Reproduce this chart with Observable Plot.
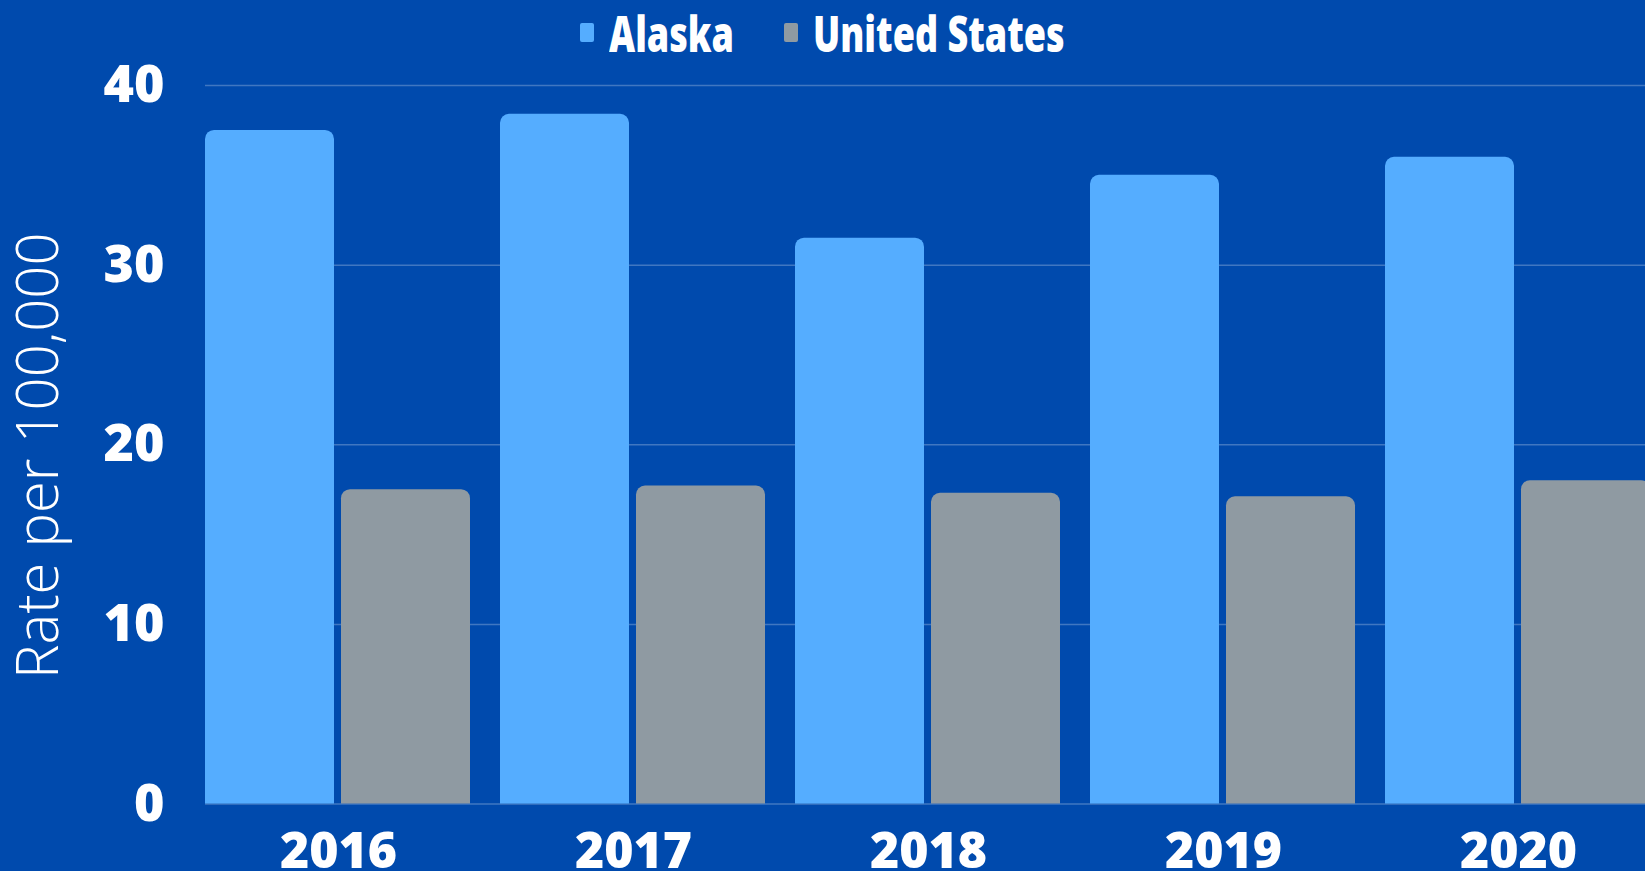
<!DOCTYPE html>
<html><head><meta charset="utf-8">
<script src="https://cdn.jsdelivr.net/npm/d3@7"></script>
<script src="https://cdn.jsdelivr.net/npm/@observablehq/plot@0.6"></script>
<style>
html,body{margin:0;padding:0;background:#004aad;overflow:hidden;width:1645px;height:871px;}
#legend{height:60px;display:flex;justify-content:center;align-items:flex-start;font-family:"Open Sans",sans-serif;font-weight:800;color:#fff;font-size:50px;line-height:64px;}
#legend .item{display:flex;align-items:flex-start;margin:0 25px;}
#legend .sw{display:inline-block;width:14px;height:19px;border-radius:2px;margin-top:23px;margin-right:15px;}
#legend .lab{display:inline-block;height:64px;margin-top:1px;}
#legend .inner{display:inline-block;white-space:nowrap;transform:scaleX(0.72);transform-origin:0 0;}
#chart svg{display:block;}
</style>
</head><body>
<div id="legend"></div>
<div id="chart"></div>
<script>
const years = ["2016", "2017", "2018", "2019", "2020"];
const seriesNames = ["Alaska", "United States"];
const alaska = [37.5, 38.4, 31.5, 35.0, 36.0];
const unitedStates = [17.5, 17.7, 17.3, 17.1, 18.0];
const colors = ["#55adff", "#8f9aa2"];
const yTicks = [0, 10, 20, 30, 40];

const data = years.flatMap((y, i) => [
  {year: y, series: seriesNames[0], value: alaska[i]},
  {year: y, series: seriesNames[1], value: unitedStates[i]}
]);

// legend
const legend = d3.select("#legend");
seriesNames.forEach((s, i) => {
  const item = legend.append("div").attr("class", "item");
  item.append("span").attr("class", "sw").style("background", colors[i]);
  item.append("span").attr("class", "lab").append("span").attr("class", "inner").text(s);
});
document.querySelectorAll("#legend .lab").forEach(l => {
  l.style.width = l.firstChild.getBoundingClientRect().width + "px";
});

const W = 1651, ML = 204, MR = 0;
const chart = Plot.plot({
  width: W,
  height: 811,
  marginLeft: ML,
  marginRight: MR,
  marginTop: 25,
  marginBottom: 67.5,
  style: {background: "transparent", color: "#fff", maxWidth: "none", overflow: "visible", fontFamily: "'Open Sans', sans-serif"},
  fx: {domain: years, paddingInner: 0.1, paddingOuter: 0, label: null},
  x: {domain: seriesNames, paddingInner: 0.05, paddingOuter: 0, axis: null},
  y: {domain: [0, 40], axis: null},
  color: {domain: seriesNames, range: colors},
  marks: [
    // full-width gridlines (drawn once, in the leftmost facet)
    Plot.axisY({ticks: yTicks, tickSize: -(W - ML - MR), tickFormat: () => "", label: null, stroke: "#ffffff", strokeOpacity: 0.25, strokeWidth: 1.5}),
    Plot.barY(data, {fx: "year", x: "series", y: "value", fill: "series", ry1: 9}),
    Plot.axisY({ticks: yTicks, tickSize: 0, tickPadding: 41, fontSize: 52, fontWeight: 800, label: null}),
    Plot.axisY({ticks: [], tickSize: 0, label: "Rate per 100,000", labelAnchor: "center", labelOffset: 189, labelArrow: "none", fontSize: 58, fontWeight: 300}),
    Plot.axisFx({anchor: "bottom", tickSize: 0, tickPadding: 28, fontSize: 50, fontWeight: 800, label: null})
  ]
});
document.getElementById("chart").appendChild(chart);
// nudge the y-axis title slightly down to match the reference
const lab = chart.querySelector('g[aria-label="y-axis label"]');
if (lab) lab.setAttribute("transform", ((lab.getAttribute("transform") || "") + " translate(0,11)").trim());
</script>
</body></html>
